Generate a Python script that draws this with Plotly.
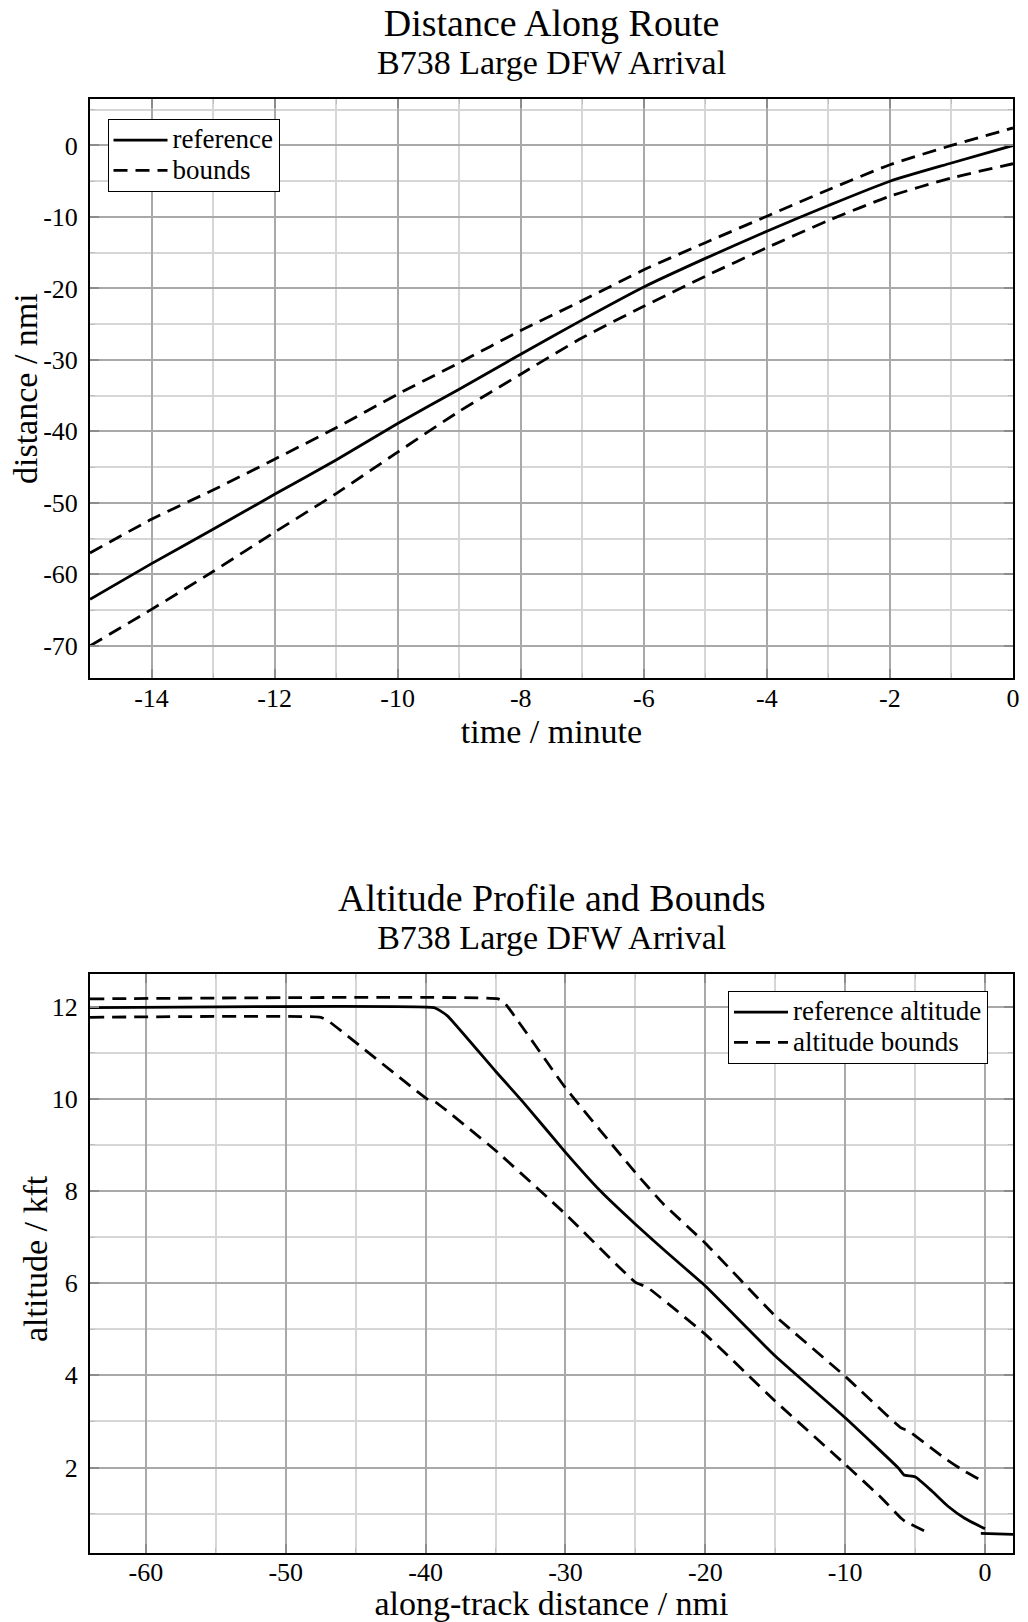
import plotly.graph_objects as go

FONT = "Liberation Serif, Times New Roman, Times, serif"

# ---------------- Distance Along Route (top chart) ----------------
time_min = [-15, -14, -13, -12, -11, -10, -9, -8, -7, -6, -5, -4, -3, -2, -1, 0]
dist_ref = [-63.5, -58.5, -53.7, -48.8, -44.0, -38.9, -34.1, -29.2, -24.4, -19.8,
            -15.8, -12.0, -8.4, -5.0, -2.45, 0.0]
dist_upper = [-57.0, -52.3, -48.2, -43.9, -39.5, -34.8, -30.4, -25.9, -21.7, -17.4,
              -13.6, -9.9, -6.2, -2.7, 0.0, 2.45]
dist_lower = [-70.0, -64.9, -59.6, -54.1, -48.7, -42.9, -37.2, -32.0, -26.9, -22.5,
              -18.3, -14.3, -10.5, -7.1, -4.55, -2.55]
time_ticks = [-14, -12, -10, -8, -6, -4, -2, 0]
time_tick_labels = ["-14", "-12", "-10", "-8", "-6", "-4", "-2", "0"]
dist_ticks = [-70, -60, -50, -40, -30, -20, -10, 0]
dist_tick_labels = ["-70", "-60", "-50", "-40", "-30", "-20", "-10", "0"]

# ---------------- Altitude Profile and Bounds (bottom chart) ----------------
alt_ref_x = [-64.0, -39.4, -39.0, -38.4, -35.0, -33.0, -30.0, -27.5, -25.0, -22.5,
             -20.0, -15.0, -10.0, -6.2, -5.8, -5.0, -3.8, -2.65, -1.46, 0.0,
             None, -0.3, 2.0]
alt_ref_y = [11.98, 11.98, 11.92, 11.79, 10.60, 9.92, 8.84, 8.00, 7.28, 6.60,
             5.94, 4.42, 3.08, 1.99, 1.84, 1.80, 1.49, 1.16, 0.90, 0.67,
             None, 0.57, 0.55]
alt_up_x = [-64.0, -34.8, -34.4, -30.0, -25.0, -23.0, -20.0, -15.0, -10.0, -6.0,
            -5.5, -2.88, -1.46, 0.0]
alt_up_y = [12.17, 12.17, 12.10, 10.24, 8.40, 7.72, 6.87, 5.29, 3.98, 2.86,
            2.80, 2.20, 1.92, 1.68]
alt_lo_x = [-64.0, -47.5, -47.0, -39.8, -39.3, -35.0, -30.0, -25.0, -24.2, -20.0,
            -15.0, -10.0, -7.4, -6.0, -5.7, -4.3]
alt_lo_y = [11.77, 11.77, 11.70, 9.98, 9.93, 8.88, 7.50, 6.02, 5.92, 4.89,
            3.44, 2.07, 1.34, 0.90, 0.83, 0.62]
track_ticks = [-60, -50, -40, -30, -20, -10, 0]
track_tick_labels = ["-60", "-50", "-40", "-30", "-20", "-10", "0"]
alt_ticks = [2, 4, 6, 8, 10, 12]
alt_tick_labels = ["2", "4", "6", "8", "10", "12"]

LW = 2.8
DASH = "14px,8px"
SMOOTH = 0.6

# page geometry (pixels)
W, H = 1028, 1622
ML, MR, MT, MB = 90, 15, 99, 69
PW, PH = W - ML - MR, H - MT - MB


def px_x(px):
    return (px - ML) / PW


def px_y(py):
    return (H - MB - py) / PH


def legend_name(s):
    return "<span style='font-size:27px'>" + s + "</span>"


fig = go.Figure()
fig.add_trace(go.Scatter(x=time_min, y=dist_ref, mode="lines", name=legend_name("reference"),
                         line=dict(color="black", width=LW, shape="spline", smoothing=SMOOTH),
                         xaxis="x", yaxis="y", legend="legend"))
fig.add_trace(go.Scatter(x=time_min, y=dist_upper, mode="lines", name=legend_name("bounds"),
                         legendgroup="b1",
                         line=dict(color="black", width=LW, dash=DASH, shape="spline", smoothing=SMOOTH),
                         xaxis="x", yaxis="y", legend="legend"))
fig.add_trace(go.Scatter(x=time_min, y=dist_lower, mode="lines", name=legend_name("bounds"),
                         legendgroup="b1", showlegend=False,
                         line=dict(color="black", width=LW, dash=DASH, shape="spline", smoothing=SMOOTH),
                         xaxis="x", yaxis="y", legend="legend"))

fig.add_trace(go.Scatter(x=alt_ref_x, y=alt_ref_y, mode="lines",
                         name=legend_name("reference altitude"),
                         line=dict(color="black", width=LW, shape="spline", smoothing=0.4),
                         xaxis="x2", yaxis="y2", legend="legend2", connectgaps=False))
fig.add_trace(go.Scatter(x=alt_up_x, y=alt_up_y, mode="lines", name=legend_name("altitude bounds"),
                         legendgroup="b2",
                         line=dict(color="black", width=LW, dash=DASH, shape="spline", smoothing=0.4),
                         xaxis="x2", yaxis="y2", legend="legend2"))
fig.add_trace(go.Scatter(x=alt_lo_x, y=alt_lo_y, mode="lines", name=legend_name("altitude bounds"),
                         legendgroup="b2", showlegend=False,
                         line=dict(color="black", width=LW, dash=DASH, shape="spline", smoothing=0.4),
                         xaxis="x2", yaxis="y2", legend="legend2"))

common = dict(
    showline=True, linecolor="black", linewidth=2, mirror="ticks",
    showgrid=True, gridcolor="#a9a9a9", gridwidth=1.5,
    zeroline=False, ticks="inside", ticklen=9, tickcolor="#8c8c8c", tickwidth=1.5,
    tickfont=dict(family=FONT, size=26, color="black"),
    tickmode="array", automargin=False,
)
minor_common = dict(showgrid=True, gridcolor="#d6d6d6", gridwidth=1.5,
                    ticks="inside", ticklen=5, tickcolor="#bdbdbd", tickwidth=1.2,
                    tickmode="linear")
title_font = dict(family=FONT, size=34, color="black")
legend_font = dict(family=FONT, size=21, color="black")


def chart_title(main, sub):
    return ("<span style='font-size:38px'>" + main + "</span><br>"
            "<span style='font-size:34px'>" + sub + "</span>")


fig.update_layout(
    template="none",
    width=W, height=H,
    margin=dict(l=ML, r=MR, t=MT, b=MB, autoexpand=False),
    paper_bgcolor="white", plot_bgcolor="white",
    font=dict(family=FONT, color="black"),
    xaxis=dict(domain=[0, 1], anchor="y", range=[-15, 0],
               tickvals=time_ticks, ticktext=time_tick_labels,
               minor=dict(tick0=0, dtick=1, **minor_common),
               title=dict(text="time / minute", font=title_font, standoff=0),
               ticklabelstandoff=-4,
               **common),
    yaxis=dict(domain=[px_y(678), 1.0], anchor="x", range=[-74.5, 6.5],
               tickvals=dist_ticks, ticktext=dist_tick_labels,
               minor=dict(tick0=0, dtick=5, **minor_common),
               ticklabelstandoff=5,
               **common),
    xaxis2=dict(domain=[0, 1], anchor="y2", range=[-64, 2],
                tickvals=track_ticks, ticktext=track_tick_labels,
                minor=dict(tick0=0, dtick=5, **minor_common),
                title=dict(text="along-track distance / nmi", font=title_font, standoff=5),
                ticklabelstandoff=-5,
                **common),
    yaxis2=dict(domain=[0, px_y(974)], anchor="x2", range=[0.146, 12.71],
                tickvals=alt_ticks, ticktext=alt_tick_labels,
                minor=dict(tick0=0, dtick=1, **minor_common),
                ticklabelstandoff=5,
                **common),
    legend=dict(x=px_x(107.5), y=px_y(119), xanchor="left", yanchor="top",
                bgcolor="white", bordercolor="black", borderwidth=1,
                tracegroupgap=0, itemwidth=54, font=legend_font),
    legend2=dict(x=px_x(988), y=px_y(991), xanchor="right", yanchor="top",
                 bgcolor="white", bordercolor="black", borderwidth=1,
                 tracegroupgap=0, itemwidth=54, font=legend_font),
    showlegend=True,
    annotations=[
        dict(text=chart_title("Distance Along Route", "B738 Large DFW Arrival"),
             x=0.5, y=px_y(41), xref="paper", yref="paper",
             xanchor="center", yanchor="middle", showarrow=False,
             font=dict(family=FONT, size=29, color="black")),
        dict(text=chart_title("Altitude Profile and Bounds", "B738 Large DFW Arrival"),
             x=0.5, y=px_y(916), xref="paper", yref="paper",
             xanchor="center", yanchor="middle", showarrow=False,
             font=dict(family=FONT, size=29, color="black")),
        dict(text="distance / nmi", textangle=-90,
             x=px_x(25), y=px_y(389), xref="paper", yref="paper",
             xanchor="center", yanchor="middle", showarrow=False, font=title_font),
        dict(text="altitude / kft", textangle=-90,
             x=px_x(35), y=px_y(1259), xref="paper", yref="paper",
             xanchor="center", yanchor="middle", showarrow=False, font=title_font),
    ],
)

fig.write_html("out.html", config={"displayModeBar": False},
               post_script="document.body.style.margin='0px';")
